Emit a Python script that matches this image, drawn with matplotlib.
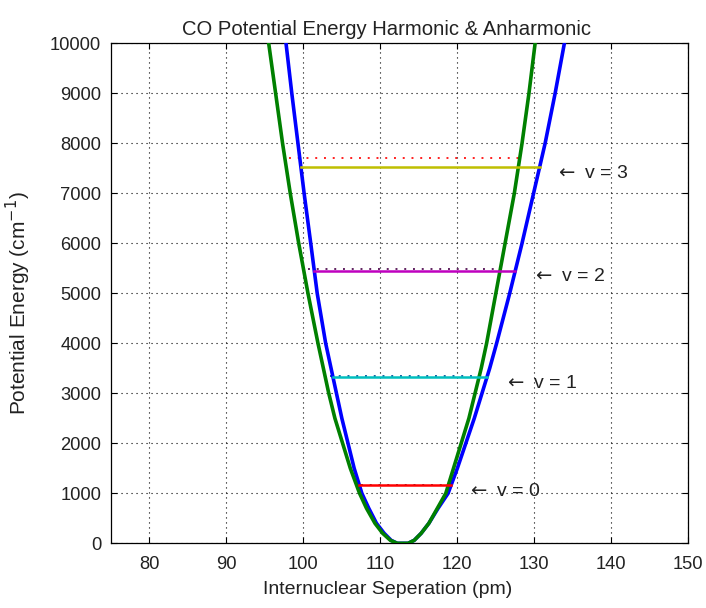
import numpy as np
import matplotlib
matplotlib.use("Agg")
import matplotlib.pyplot as plt

plt.rcParams['font.family'] = ['Liberation Sans', 'DejaVu Sans']

# Harmonic potential (green): separation (pm), energy (cm^-1)
harm_r = [94.7, 95.5, 96.4, 97.3, 98.3, 99.4, 100.6, 101.9, 102.6, 103.3, 104.1, 105.1,
          106.1, 107.3, 108.2, 109.3, 110.3, 111.3, 112.2, 113.6, 114.4, 115.3,
          116.3, 117.4, 118.5, 119.5, 120.5, 121.5, 122.3, 123.1, 123.8,
          125.0, 126.2, 127.4, 128.4, 129.3, 130.1, 130.8]
harm_E = [11000, 10000, 9000, 8000, 7000, 6000, 5000, 4000, 3500, 3000, 2500, 2000,
          1500, 1000, 700, 400, 200, 60, 0, 0, 60, 200,
          400, 700, 1000, 1500, 2000, 2500, 3000, 3500, 4000,
          5000, 6000, 7000, 8000, 9000, 10000, 11000]

# Anharmonic potential (blue)
anh_r = [97.1, 97.75, 98.5, 99.3, 100.1, 100.96, 101.8, 102.9, 103.6, 104.3, 105.0, 105.8,
         106.6, 107.6, 108.5, 109.5, 110.5, 111.4, 112.2, 113.6, 114.4, 115.3,
         116.3, 117.5, 118.8, 120.0, 121.1, 122.2, 123.2, 124.2, 125.1,
         126.8, 128.4, 129.9, 131.4, 132.7, 133.9, 135.0]
anh_E = [11000, 10000, 9000, 8000, 7000, 6000, 5000, 4000, 3500, 3000, 2500, 2000,
         1500, 1000, 700, 400, 200, 60, 0, 0, 60, 200,
         400, 700, 1000, 1500, 2000, 2500, 3000, 3500, 4000,
         5000, 6000, 7000, 8000, 9000, 10000, 11000]

# Vibrational levels
v_quantum = [0, 1, 2, 3]
anh_levels = [1166, 3320, 5446, 7520]
harm_levels = [1170, 3350, 5490, 7700]
level_colors = ['#ff0000', '#00bfbf', '#bf00bf', '#bfbf00']
harm_level_colors = ['#404040', '#1060a0', '#602060', '#ff2020']
label_r = [121.3, 126.0, 129.7, 132.7]

xticks = [80, 90, 100, 110, 120, 130, 140, 150]
yticks = list(range(0, 10001, 1000))


def branch_crossings(r, E, level):
    r = np.asarray(r, float)
    E = np.asarray(E, float)
    i_min = int(np.argmin(E))
    left_r, left_E = r[:i_min + 1], E[:i_min + 1]
    right_r, right_E = r[i_min:], E[i_min:]
    rl = np.interp(level, left_E[::-1], left_r[::-1])
    rr = np.interp(level, right_E, right_r)
    return rl, rr


fig = plt.figure(figsize=(7.06, 6.08), dpi=100)
ax = fig.add_axes([0.157, 0.1064, 0.818, 0.8224])

ax.plot(anh_r, anh_E, color='#0000ff', lw=2.6, zorder=3)
ax.plot(harm_r, harm_E, color='#008000', lw=2.6, zorder=4)

fs = 13.2
for v, Eh, Ea, c, ch, lr in zip(v_quantum, harm_levels, anh_levels,
                                level_colors, harm_level_colors, label_r):
    hl, hr = branch_crossings(harm_r, harm_E, Eh)
    ax.plot([hl + 0.6, hr], [Eh, Eh], color=ch, lw=1.4,
            linestyle=(0, (1, 3.5)), zorder=2)
    al, ar = branch_crossings(anh_r, anh_E, Ea)
    ax.plot([al, ar], [Ea, Ea], color=c, lw=1.8, zorder=5)
    ax.text(lr, Ea - 120, r"$\leftarrow$ v = %d" % v, fontsize=14, color='#222222',
            ha='left', va='center', zorder=6)

ax.set_xlim(75, 150)
ax.set_ylim(0, 10000)
ax.set_xticks(xticks)
ax.set_yticks(yticks)
ax.tick_params(direction='in', length=4, top=True, right=True,
               labelsize=fs, labelcolor='#222222')
ax.tick_params(axis='x', pad=9)
ax.tick_params(axis='y', pad=7)
ax.grid(True, color='#000000', lw=0.8, linestyle=(0, (1, 3.5)))
for s in ax.spines.values():
    s.set_linewidth(0.9)

ax.set_title("CO Potential Energy Harmonic & Anharmonic", fontsize=14.6,
             color='#222222', pad=6, x=0.477)
ax.set_xlabel("Internuclear Seperation (pm)", fontsize=14, color='#222222')
ax.xaxis.set_label_coords(0.479, -0.075)
ax.set_ylabel("Potential Energy (cm$^{-1}$)", fontsize=15, color='#222222')
ax.yaxis.set_label_coords(-0.135, 0.48)

fig.savefig("out.png", dpi=100, facecolor='white')
